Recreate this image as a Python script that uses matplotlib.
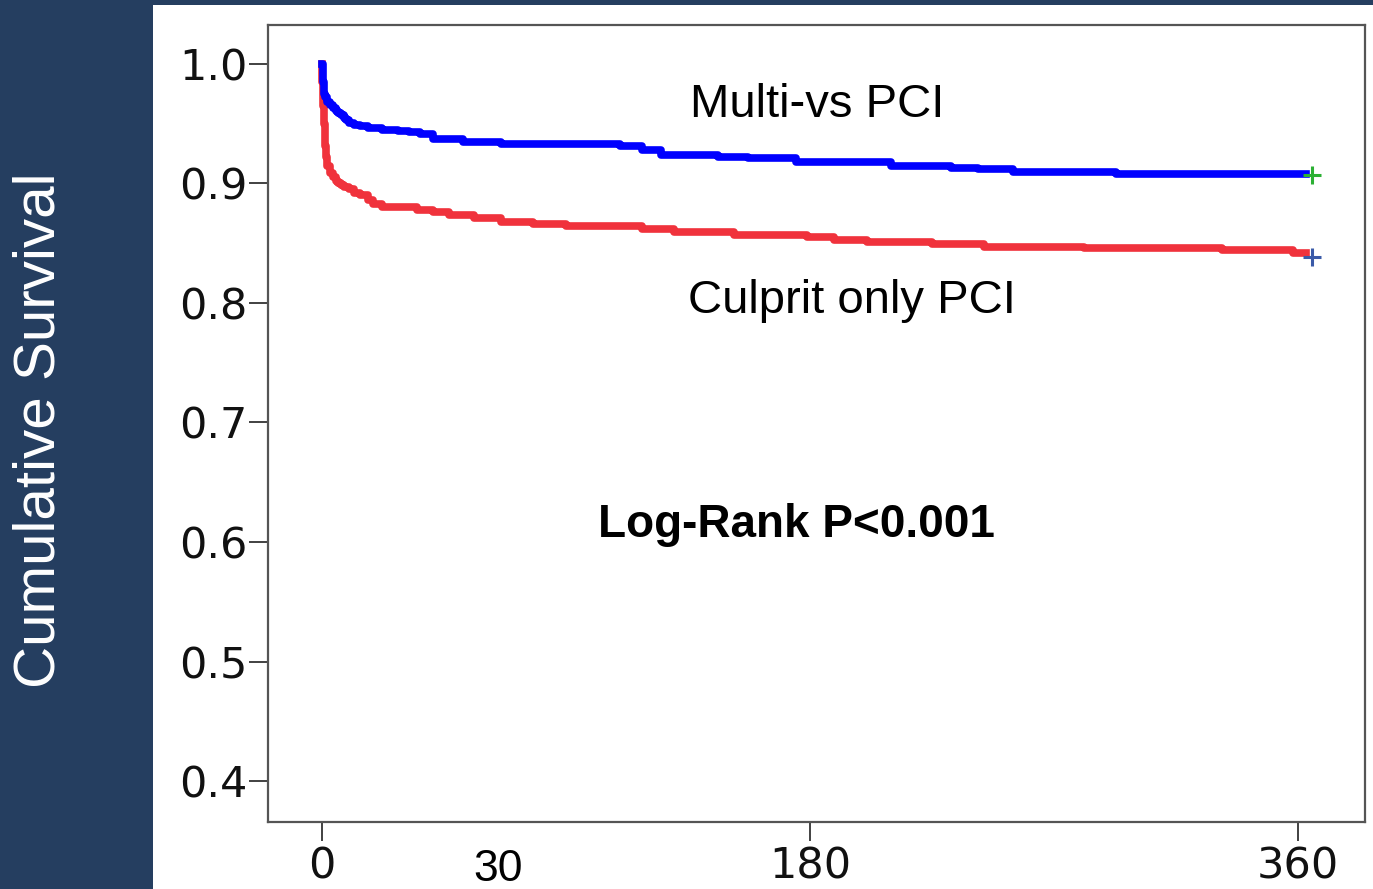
import matplotlib.pyplot as plt
import matplotlib.patches as patches

# Kaplan-Meier step data (days, cumulative survival)
multi_days = [0, 0.3, 0.6, 1, 2, 3, 4, 5, 6, 7, 8, 9, 10, 12, 14, 17, 22, 28,
              32, 36, 41, 52, 66, 110, 118, 125, 146, 157, 175, 210, 232, 242,
              255, 293, 363]
multi_surv = [1.0, 0.985, 0.975, 0.972, 0.968, 0.966, 0.963, 0.961, 0.959,
              0.957, 0.955, 0.953, 0.951, 0.949, 0.948, 0.946, 0.945, 0.944,
              0.943, 0.941, 0.937, 0.935, 0.933, 0.931, 0.928, 0.924, 0.922,
              0.921, 0.918, 0.915, 0.913, 0.912, 0.910, 0.908, 0.908]

culprit_days = [0, 0.2, 0.4, 0.6, 1, 1.5, 2, 3, 4, 5, 6, 7, 8, 10, 12, 14, 17,
                19, 22, 35, 41, 47, 56, 66, 78, 90, 118, 130, 152, 179, 189,
                201, 225, 244, 281, 332, 358, 363]
culprit_surv = [1.0, 0.985, 0.965, 0.950, 0.931, 0.922, 0.915, 0.909, 0.905,
                0.902, 0.900, 0.899, 0.897, 0.895, 0.892, 0.890, 0.886, 0.883,
                0.880, 0.878, 0.876, 0.874, 0.871, 0.868, 0.866, 0.864, 0.862,
                0.859, 0.857, 0.855, 0.853, 0.851, 0.849, 0.847, 0.846, 0.844,
                0.842, 0.842]

censor_day = 365
multi_censor = 0.907
culprit_censor = 0.8385

y_ticks = [0.4, 0.5, 0.6, 0.7, 0.8, 0.9, 1.0]
y_ticklabels = ['0.4', '0.5', '0.6', '0.7', '0.8', '0.9', '1.0']
x_ticks = [0, 180, 360]
x_ticklabels = ['0', '180', '360']

W, H = 1373, 889
fig = plt.figure(figsize=(W / 100, H / 100), dpi=100)
fig.patch.set_facecolor('#253e60')

# white slide panel behind the chart
fig.add_artist(patches.Rectangle((153 / W, 0), 1 - 153 / W, 1 - 5 / H,
                                 transform=fig.transFigure, facecolor='white',
                                 edgecolor='none', zorder=0))

ax = fig.add_axes([268 / W, 1 - 822 / H, (1365 - 268) / W, (822 - 25) / H])
ax.set_facecolor('white')

ax.step(culprit_days, culprit_surv, where='post', color='#f0323c', lw=5.5)
ax.step(multi_days, multi_surv, where='post', color='#0000ff', lw=5.5)
ax.plot([censor_day], [multi_censor], marker='+', color='#2bb033', ms=13, mew=2.2)
ax.plot([censor_day], [culprit_censor], marker='+', color='#3a5aa8', ms=13, mew=2.2)

ax.set_xlim(-19.9, 384.7)
ax.set_ylim(0.3657, 1.0326)

tick_font = {'family': 'DejaVu Sans', 'size': 31}
ax.set_yticks(y_ticks)
ax.set_yticklabels(y_ticklabels, fontdict=tick_font)
ax.set_xticks(x_ticks)
ax.set_xticklabels(x_ticklabels, fontdict=tick_font)
ax.tick_params(axis='both', direction='out', length=14, width=1.3,
               color='#333333', labelcolor='#111111', pad=1)
ax.tick_params(axis='x', pad=3)

for sp in ax.spines.values():
    sp.set_color('#555555')
    sp.set_linewidth(1.6)

font = 'Liberation Sans'
ax.text(182.6, 0.9556, 'Multi-vs PCI', fontsize=34, family=font,
        ha='center', va='baseline')
ax.text(195.5, 0.7916, 'Culprit only PCI', fontsize=34, family=font,
        ha='center', va='baseline')
ax.text(174.9, 0.6042, 'Log-Rank P<0.001', fontsize=33, family=font,
        fontweight='bold', ha='center', va='baseline')

# stray "30" label under the x axis
fig.text(498 / W, 1 - 881 / H, '30', fontsize=32, family=font,
         ha='center', va='baseline', color='black')

fig.text(40 / W, 1 - 430 / H, 'Cumulative Survival', fontsize=42, family=font,
         color='white', rotation=90, ha='center', va='center')

fig.savefig('out.png', dpi=100, facecolor=fig.get_facecolor())
